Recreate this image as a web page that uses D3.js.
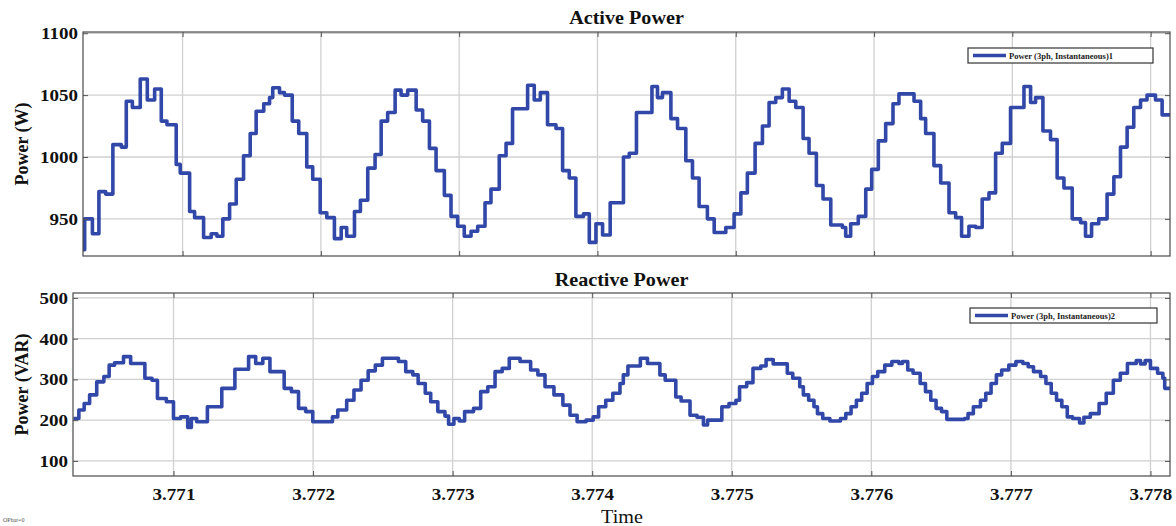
<!DOCTYPE html>
<html>
<head>
<meta charset="utf-8">
<script src="https://cdn.jsdelivr.net/npm/d3@7"></script>
<style>
  html, body { margin: 0; padding: 0; background: #fff; }
  svg { display: block; }
  text { font-family: "Liberation Serif", "Times New Roman", serif; }
</style>
</head>
<body>
<svg id="chart" width="1176" height="526"></svg>
<script>
// Three-phase instantaneous power, time axis in seconds
const timeDomain = [3.77028, 3.77814];
const timeTicks = [3.771, 3.772, 3.773, 3.774, 3.775, 3.776, 3.777, 3.778];

// Active power (W): staircase samples, start time of each step
const activeTime = [
  3.770278, 3.770292, 3.770348, 3.770395, 3.770444, 3.770496, 3.770557, 3.770593, 3.770637, 3.770694,
  3.770745, 3.770798, 3.770846, 3.770887, 3.770954, 3.770983, 3.771051, 3.771087, 3.771152, 3.771207,
  3.771248, 3.771291, 3.771340, 3.771388, 3.771441, 3.771489, 3.771532, 3.771587, 3.771629, 3.771652,
  3.771701, 3.771737, 3.771793, 3.771840, 3.771898, 3.771941, 3.771995, 3.772043, 3.772098, 3.772147,
  3.772187, 3.772243, 3.772286, 3.772339, 3.772392, 3.772436, 3.772483, 3.772537, 3.772580, 3.772628,
  3.772689, 3.772736, 3.772785, 3.772833, 3.772893, 3.772941, 3.772989, 3.773037, 3.773086, 3.773134,
  3.773187, 3.773230, 3.773290, 3.773339, 3.773386, 3.773495, 3.773543, 3.773587, 3.773639, 3.773700,
  3.773748, 3.773796, 3.773844, 3.773899, 3.773941, 3.773989, 3.774037, 3.774092, 3.774188, 3.774230,
  3.774282, 3.774394, 3.774434, 3.774470, 3.774531, 3.774579, 3.774639, 3.774687, 3.774735, 3.774795,
  3.774844, 3.774928, 3.774988, 3.775037, 3.775084, 3.775140, 3.775193, 3.775241, 3.775289, 3.775337,
  3.775386, 3.775434, 3.775487, 3.775530, 3.775583, 3.775631, 3.775687, 3.775771, 3.775795, 3.775831,
  3.775886, 3.775940, 3.775983, 3.776031, 3.776084, 3.776137, 3.776180, 3.776289, 3.776337, 3.776373,
  3.776433, 3.776482, 3.776542, 3.776590, 3.776633, 3.776686, 3.776735, 3.776782, 3.776831, 3.776879,
  3.776927, 3.776987, 3.777084, 3.777132, 3.777168, 3.777221, 3.777276, 3.777324, 3.777373, 3.777433,
  3.777493, 3.777529, 3.777573, 3.777625, 3.777685, 3.777734, 3.777782, 3.777830, 3.777878, 3.777927,
  3.777974, 3.778035, 3.778083
];
const activeValue = [
  925, 950, 938, 972, 970, 1010, 1008, 1045, 1040, 1063,
  1046, 1055, 1029, 1026, 994, 987, 956, 951, 935, 938,
  936, 950, 962, 982, 1001, 1019, 1037, 1043, 1048, 1056,
  1052, 1050, 1029, 1019, 992, 982, 955, 951, 934, 943,
  936, 956, 965, 991, 1002, 1029, 1036, 1054, 1050, 1054,
  1038, 1029, 1007, 989, 969, 952, 944, 936, 940, 944,
  963, 974, 1001, 1011, 1039, 1058, 1046, 1052, 1026, 1023,
  989, 983, 952, 954, 931, 946, 937, 963, 1000, 1003,
  1036, 1057, 1048, 1052, 1031, 1023, 997, 983, 960, 950,
  939, 943, 954, 971, 987, 1011, 1025, 1044, 1048, 1055,
  1045, 1040, 1015, 1003, 977, 966, 945, 943, 936, 946,
  952, 974, 990, 1013, 1027, 1043, 1051, 1045, 1031, 1019,
  993, 979, 955, 951, 936, 944, 943, 966, 971, 1003,
  1011, 1040, 1057, 1044, 1048, 1021, 1014, 983, 975, 950,
  947, 936, 946, 950, 970, 984, 1008, 1024, 1040, 1046,
  1050, 1046, 1034
];

// Reactive power (VAR): staircase samples, start time of each step
const reactiveTime = [
  3.770283, 3.770322, 3.770360, 3.770399, 3.770450, 3.770501, 3.770539, 3.770578, 3.770642, 3.770693,
  3.770795, 3.770846, 3.770885, 3.770949, 3.771000, 3.771051, 3.771102, 3.771128, 3.771166, 3.771243,
  3.771346, 3.771440, 3.771538, 3.771589, 3.771640, 3.771691, 3.771793, 3.771845, 3.771896, 3.771947,
  3.771998, 3.772139, 3.772177, 3.772241, 3.772293, 3.772344, 3.772395, 3.772446, 3.772497, 3.772612,
  3.772664, 3.772715, 3.772753, 3.772804, 3.772843, 3.772894, 3.772945, 3.772971, 3.773009, 3.773048,
  3.773086, 3.773150, 3.773201, 3.773252, 3.773304, 3.773355, 3.773406, 3.773483, 3.773559, 3.773611,
  3.773662, 3.773726, 3.773790, 3.773841, 3.773892, 3.773956, 3.774007, 3.774046, 3.774097, 3.774148,
  3.774199, 3.774223, 3.774256, 3.774345, 3.774396, 3.774485, 3.774523, 3.774599, 3.774637, 3.774701,
  3.774751, 3.774797, 3.774827, 3.774929, 3.774980, 3.775030, 3.775056, 3.775107, 3.775152, 3.775208,
  3.775246, 3.775297, 3.775398, 3.775437, 3.775487, 3.775513, 3.775551, 3.775589, 3.775614, 3.775652,
  3.775703, 3.775779, 3.775817, 3.775855, 3.775893, 3.775931, 3.775970, 3.776008, 3.776046, 3.776096,
  3.776147, 3.776198, 3.776223, 3.776261, 3.776299, 3.776350, 3.776388, 3.776426, 3.776464, 3.776503,
  3.776541, 3.776668, 3.776693, 3.776731, 3.776782, 3.776820, 3.776858, 3.776896, 3.776934, 3.776985,
  3.777036, 3.777086, 3.777124, 3.777162, 3.777213, 3.777251, 3.777289, 3.777327, 3.777365, 3.777404,
  3.777442, 3.777492, 3.777523, 3.777569, 3.777632, 3.777683, 3.777734, 3.777784, 3.777835, 3.777898,
  3.777929, 3.777962, 3.778000, 3.778051, 3.778089, 3.778102
];
const reactiveValue = [
  204, 225, 241, 262, 294, 307, 335, 341, 356, 339,
  303, 298, 253, 245, 204, 208, 182, 204, 196, 233,
  278, 325, 356, 339, 352, 319, 278, 270, 229, 221,
  196, 208, 225, 249, 274, 298, 321, 335, 352, 344,
  319, 311, 290, 266, 245, 221, 210, 190, 204, 198,
  221, 229, 270, 282, 319, 327, 352, 344, 323, 311,
  282, 262, 237, 212, 196, 200, 208, 233, 249, 266,
  290, 311, 333, 352, 339, 311, 298, 257, 247, 212,
  207, 188, 200, 233, 241, 249, 282, 292, 327, 333,
  349, 338, 315, 303, 282, 262, 249, 233, 216, 204,
  198, 204, 216, 233, 249, 266, 290, 307, 319, 335,
  344, 339, 344, 323, 315, 290, 270, 249, 229, 221,
  202, 204, 216, 233, 249, 266, 290, 311, 323, 335,
  344, 339, 331, 319, 307, 290, 266, 249, 233, 208,
  204, 193, 207, 216, 241, 266, 298, 315, 339, 346,
  338, 346, 327, 315, 303, 278
];

const activeTicks = [950, 1000, 1050, 1100];
const reactiveTicks = [100, 200, 300, 400, 500];

const svg = d3.select("#chart");
const LINE = "#3248a8";
const FONT = '"Liberation Serif", "Times New Roman", serif';
const SX = 1.12; // glyphs are drawn slightly wide

function textAt(g, x, y, str, size, weight, anchor) {
  return g.append("text")
    .attr("transform", `translate(${x},${y}) scale(${SX},1)`)
    .attr("text-anchor", anchor || "middle")
    .attr("font-size", size)
    .attr("font-weight", weight || "bold")
    .attr("fill", "#111")
    .text(str);
}

function panel(cfg) {
  const { left, right, top, bottom, yDomain, yTicks, times, values, title, titleY, ylabel, legend, showX, id } = cfg;
  const x = d3.scaleLinear().domain(timeDomain).range([left, right]);
  const y = d3.scaleLinear().domain(yDomain).range([bottom, top]);
  const g = svg.append("g");

  // grid
  g.append("g").selectAll("line").data(timeTicks).join("line")
    .attr("x1", d => x(d)).attr("x2", d => x(d))
    .attr("y1", top).attr("y2", bottom)
    .attr("stroke", "#d0d0d0").attr("stroke-width", 1.3);
  g.append("g").selectAll("line").data(yTicks).join("line")
    .attr("x1", left).attr("x2", right)
    .attr("y1", d => y(d)).attr("y2", d => y(d))
    .attr("stroke", "#d0d0d0").attr("stroke-width", 1.3);

  // waveform
  g.append("clipPath").attr("id", id).append("rect")
    .attr("x", left).attr("y", top).attr("width", right - left).attr("height", bottom - top);
  const pts = times.map((t, i) => [t, values[i]]);
  pts.push([timeDomain[1], values[values.length - 1]]);
  g.append("path")
    .datum(pts)
    .attr("clip-path", `url(#${id})`)
    .attr("fill", "none")
    .attr("stroke", LINE)
    .attr("stroke-width", 3.6)
    .attr("stroke-linejoin", "round")
    .attr("d", d3.line().x(d => x(d[0])).y(d => y(d[1])).curve(d3.curveStepAfter));

  // axes with inward ticks
  const ax = (axis, tx, ty) => {
    const a = g.append("g").attr("transform", `translate(${tx},${ty})`).call(axis);
    a.select(".domain").remove();
    a.selectAll(".tick line").attr("stroke", "#555");
    a.selectAll("text")
      .attr("font-family", FONT).attr("font-size", 17).attr("font-weight", "bold").attr("fill", "#111");
    return a;
  };
  const la = ax(d3.axisLeft(y).tickValues(yTicks).tickSize(-5).tickPadding(5).tickFormat(d3.format("d")), left, 0);
  la.selectAll("text").attr("transform", `scale(${SX},1)`).attr("x", -5 / SX);
  ax(d3.axisRight(y).tickValues(yTicks).tickSize(-5).tickFormat(""), right, 0);
  ax(d3.axisTop(x).tickValues(timeTicks).tickSize(-5).tickFormat(""), 0, top);
  const ba = ax(d3.axisBottom(x).tickValues(timeTicks).tickSize(-5).tickPadding(12)
    .tickFormat(showX ? d3.format(".3f") : ""), 0, bottom);
  // labels are centred on x = 0 inside each tick, so stretching keeps them in place
  ba.selectAll(".tick text").attr("transform", `scale(${SX},1)`);

  // frame
  g.append("rect").attr("x", left).attr("y", top)
    .attr("width", right - left).attr("height", bottom - top)
    .attr("fill", "none").attr("stroke", "#4a4a4a").attr("stroke-width", 1.2);

  // title
  textAt(g, (left + right) / 2 + (cfg.titleShift || 0), titleY, title, 18);

  // y label
  g.append("text")
    .attr("transform", `translate(${cfg.ylabelX},${(top + bottom) / 2}) rotate(-90)`)
    .attr("text-anchor", "middle")
    .attr("font-size", 18).attr("font-weight", "bold").attr("fill", "#111")
    .text(ylabel);

  // legend
  const lg = g.append("g").attr("transform", `translate(${cfg.legendX},${cfg.legendY})`);
  lg.append("rect").attr("width", cfg.legendW).attr("height", 15)
    .attr("fill", "#fff").attr("stroke", "#333").attr("stroke-width", 1.2);
  lg.append("line").attr("x1", 5).attr("x2", 38).attr("y1", 7.5).attr("y2", 7.5)
    .attr("stroke", LINE).attr("stroke-width", 3.4);
  lg.append("text").attr("x", 41).attr("y", 10.5)
    .attr("font-size", 8.5).attr("font-weight", "bold").attr("fill", "#222")
    .text(legend);
}

panel({
  id: "clipActive", left: 83, right: 1170, top: 32, bottom: 256,
  yDomain: [920, 1101], yTicks: activeTicks,
  times: activeTime, values: activeValue,
  title: "Active Power", titleY: 24, titleShift: 0,
  ylabel: "Power (W)", ylabelX: 28,
  legend: "Power (3ph, Instantaneous)1", legendX: 968, legendY: 48, legendW: 185,
  showX: false
});

panel({
  id: "clipReactive", left: 73, right: 1170, top: 293, bottom: 476,
  yDomain: [63, 512], yTicks: reactiveTicks,
  times: reactiveTime, values: reactiveValue,
  title: "Reactive Power", titleY: 286, titleShift: 0,
  ylabel: "Power (VAR)", ylabelX: 28,
  legend: "Power (3ph, Instantaneous)2", legendX: 970, legendY: 308, legendW: 187,
  showX: true
});

// x-axis title
textAt(svg, 622, 523, "Time", 18, "normal");

// scope offset note
svg.append("text").attr("x", 3).attr("y", 522)
  .attr("font-size", 6).attr("fill", "#555").text("OPhat=0");
</script>
</body>
</html>
